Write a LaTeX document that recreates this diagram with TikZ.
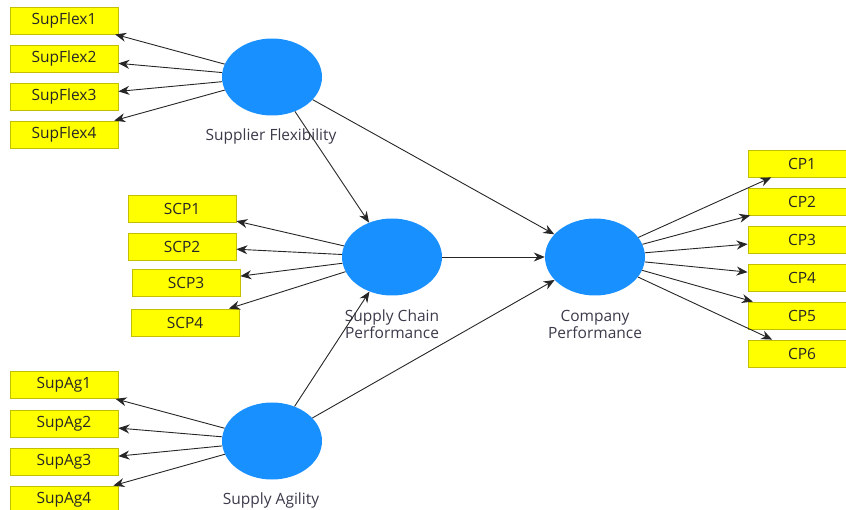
\documentclass[tikz,border=0pt]{standalone}
\usepackage{fontspec}
\setmainfont{Open Sans}
\usetikzlibrary{arrows.meta,shapes.geometric}
\definecolor{latentblue}{HTML}{1990FF}
\definecolor{itemyellow}{HTML}{FFFF00}
\definecolor{itemborder}{HTML}{C2BE00}
\definecolor{labelgray}{HTML}{3A3A4A}
\tikzset{
  latent/.style={ellipse, fill=latentblue, draw=none, minimum width=100pt, minimum height=77pt, inner sep=0pt},
  indicator/.style={rectangle, fill=itemyellow, draw=itemborder, line width=0.8pt, minimum width=108pt, minimum height=27pt, inner sep=0pt, font=\fontsize{15.5}{17}\selectfont, text=black!85},
  latlabel/.style={font=\fontsize{15.5}{17}\selectfont, text=labelgray, align=center},
  pathline/.style={draw=black!85, line width=0.9pt, -{Stealth[length=11pt,width=9pt]}},
}
\begin{document}
\begin{tikzpicture}[x=1pt,y=-1pt]
\useasboundingbox (0,0) rectangle (846,510);
\clip (0,0) rectangle (846,510);

% latent constructs
\node[latent] (sf)  at (272,77)  {};
\node[latent] (scp) at (392,257) {};
\node[latent] (sa)  at (272,441) {};
\node[latent] (cp)  at (595,257) {};

\node[latlabel] (sfl)  at (271,136) {Supplier Flexibility};
\node[latlabel] (scpl) at (392,324) {Supply Chain\\Performance};
\node[latlabel] (sal)  at (271,500) {Supply Agility};
\node[latlabel] (cpl)  at (595,324) {Company\\Performance};

% supplier flexibility indicators
\node[indicator] (sf1) at (64,20.5)  {SupFlex1};
\node[indicator] (sf2) at (64,58.5)  {SupFlex2};
\node[indicator] (sf3) at (64,96.5)  {SupFlex3};
\node[indicator] (sf4) at (64,134.5) {SupFlex4};

% supply chain performance indicators
\node[indicator] (scp1) at (182,208.5) {SCP1};
\node[indicator] (scp2) at (182,246.5) {SCP2};
\node[indicator] (scp3) at (186,283)   {SCP3};
\node[indicator] (scp4) at (185,322.5) {SCP4};

% supply agility indicators
\node[indicator] (sa1) at (64,385)   {SupAg1};
\node[indicator] (sa2) at (64,423.5) {SupAg2};
\node[indicator] (sa3) at (64,461.5) {SupAg3};
\node[indicator] (sa4) at (64,499.5) {SupAg4};

% company performance indicators
\node[indicator] (cp1) at (802,163.5) {CP1};
\node[indicator] (cp2) at (802,201.5) {CP2};
\node[indicator] (cp3) at (802,239.5) {CP3};
\node[indicator] (cp4) at (802,277.5) {CP4};
\node[indicator] (cp5) at (802,315.5) {CP5};
\node[indicator] (cp6) at (802,353.5) {CP6};

% measurement paths
\foreach \i in {1,...,4} {
  \draw[pathline] (sf) -- (sf\i);
  \draw[pathline] (scp) -- (scp\i);
  \draw[pathline] (sa) -- (sa\i);
}
\foreach \i in {1,...,6} {
  \draw[pathline] (cp) -- (cp\i);
}

% structural paths
\draw[pathline] (sf) -- (scp);
\draw[pathline] (sf) -- (cp);
\draw[pathline] (scp) -- (cp);
\draw[pathline] (sa) -- (scp);
\draw[pathline] (sa) -- (cp);
\end{tikzpicture}
\end{document}
